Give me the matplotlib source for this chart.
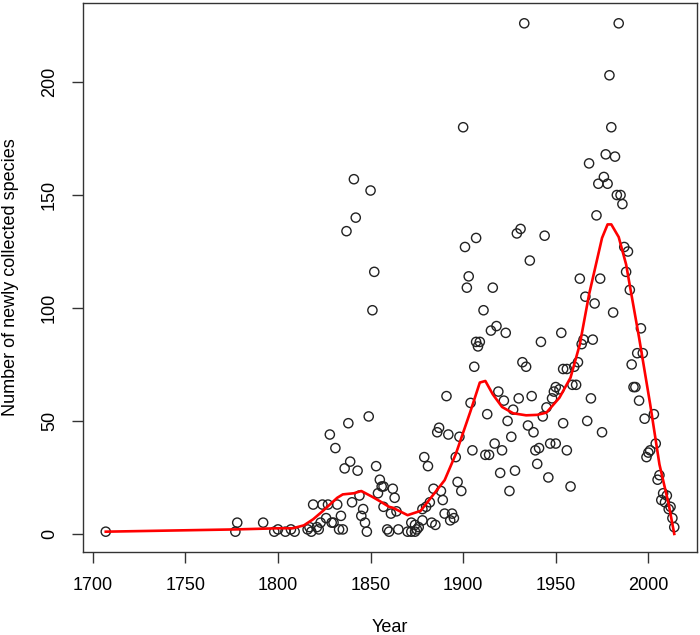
import matplotlib
matplotlib.use("Agg")
import matplotlib.pyplot as plt
import numpy as np

plt.rcParams['font.family'] = ['Liberation Sans', 'DejaVu Sans']

# collection year and number of newly collected species
year = [1707, 1777, 1778, 1792, 1798, 1800, 1804, 1807, 1809, 1816, 1817, 1818,
        1819, 1821, 1822, 1823, 1824, 1826, 1827, 1828, 1829, 1830, 1831, 1832,
        1833, 1834, 1835, 1836, 1837, 1838, 1839, 1840, 1841, 1842, 1843, 1844,
        1845, 1846, 1847, 1848, 1849, 1850, 1851, 1852, 1853, 1854, 1855, 1856,
        1857, 1857, 1859, 1860, 1861, 1862, 1863, 1864, 1865, 1870, 1872, 1872,
        1874, 1874, 1875, 1876, 1878, 1878, 1879, 1880, 1881, 1882, 1883, 1884,
        1885, 1886, 1887, 1888, 1889, 1890, 1891, 1892, 1893, 1894, 1895, 1896,
        1897, 1898, 1899, 1900, 1901, 1902, 1903, 1904, 1905, 1906, 1907, 1907,
        1908, 1909, 1911, 1912, 1913, 1914, 1915, 1916, 1917, 1918, 1919, 1920,
        1921, 1922, 1923, 1924, 1925, 1926, 1927, 1928, 1929, 1930, 1931, 1932,
        1933, 1934, 1935, 1936, 1937, 1938, 1939, 1940, 1941, 1942, 1943, 1944,
        1945, 1946, 1947, 1948, 1949, 1950, 1950, 1952, 1953, 1954, 1954, 1956,
        1956, 1958, 1959, 1960, 1961, 1962, 1963, 1964, 1965, 1966, 1967, 1968,
        1969, 1970, 1971, 1972, 1973, 1974, 1975, 1976, 1977, 1978, 1979, 1980,
        1981, 1982, 1983, 1984, 1985, 1986, 1987, 1988, 1989, 1990, 1991, 1992,
        1993, 1994, 1995, 1996, 1997, 1998, 1999, 2000, 2001, 2003, 2004, 2005,
        2006, 2007, 2008, 2009, 2010, 2011, 2012, 2013, 2014]
species = [1, 1, 5, 5, 1, 2, 1, 2, 1, 2, 3, 1,
           13, 3, 2, 5, 13, 7, 13, 44, 5, 5, 38, 13,
           2, 8, 2, 29, 134, 49, 32, 14, 157, 140, 28, 17,
           8, 11, 5, 1, 52, 152, 99, 116, 30, 18, 24, 21,
           21, 12, 2, 1, 9, 20, 16, 10, 2, 1, 1, 5,
           1, 4, 2, 3, 11, 6, 34, 12, 30, 14, 5, 20,
           4, 45, 47, 19, 15, 9, 61, 44, 6, 9, 7, 34,
           23, 43, 19, 180, 127, 109, 114, 58, 37, 74, 131, 85,
           83, 85, 99, 35, 53, 35, 90, 109, 40, 92, 63, 27,
           37, 59, 89, 50, 19, 43, 55, 28, 133, 60, 135, 76,
           226, 74, 48, 121, 61, 45, 37, 31, 38, 85, 52, 132,
           56, 25, 40, 60, 63, 40, 65, 64, 89, 49, 73, 73,
           37, 21, 66, 74, 66, 76, 113, 84, 86, 105, 50, 164,
           60, 86, 102, 141, 155, 113, 45, 158, 168, 155, 203, 180,
           98, 167, 150, 226, 150, 146, 127, 116, 125, 108, 75, 65,
           65, 80, 59, 91, 80, 51, 34, 36, 37, 53, 40, 24,
           26, 15, 18, 14, 17, 11, 12, 7, 3]

# smoothed trend (red line)
smooth_x = [1707, 1777, 1800, 1808, 1814, 1819, 1824, 1832, 1835, 1841, 1845,
            1851, 1855, 1860, 1862, 1870, 1877, 1884, 1890, 1896, 1904, 1909,
            1912, 1916, 1921, 1927, 1934, 1940, 1945, 1952, 1958, 1963, 1968,
            1975, 1978, 1980, 1984, 1988, 1990, 1995, 2001, 2006, 2011, 2014]
smooth_y = [1, 2, 2.5, 2.5, 3.8, 6.5, 10, 16, 17.5, 18, 19,
            16.4, 14.5, 12, 11.6, 8.3, 10.2, 17.5, 23.8, 35.3, 54.4, 67,
            67.7, 61.8, 56.2, 53.4, 52.5, 52.7, 53.7, 60.3, 69.2, 83.9, 106,
            131, 137, 137, 131.4, 119.3, 110, 86.9, 57.4, 30.8, 13.1, 0]

xticks = [1700, 1750, 1800, 1850, 1900, 1950, 2000]
yticks = [0, 50, 100, 150, 200]

fig = plt.figure(figsize=(7, 6.35), dpi=100)
ax = fig.add_axes([0.1186, 0.1307, 0.8771, 0.8646])

ax.scatter(year, species, s=44, facecolors='none', edgecolors='#222222',
           linewidths=1.0, zorder=2)
ax.plot(smooth_x, smooth_y, color='#ff0000', lw=1.9, zorder=3)

# R style 4% padding around the data range
xr = max(year) - min(year)
yr = max(species) - min(species)
ax.set_xlim(min(year) - 0.04 * xr, max(year) + 0.04 * xr)
ax.set_ylim(min(species) - 0.04 * yr, max(species) + 0.04 * yr)

ax.set_xticks(xticks)
ax.set_yticks(yticks)
ax.tick_params(axis='both', direction='out', length=8, width=1, labelsize=13,
               pad=10, color='#333333')
for lab in ax.get_yticklabels():
    lab.set_rotation(90)
    lab.set_va('center')

for sp in ax.spines.values():
    sp.set_color('#333333')
    sp.set_linewidth(1.0)

ax.set_xlabel('Year', fontsize=13, labelpad=18)
ax.set_ylabel('Number of newly collected species', fontsize=13, labelpad=16)

fig.savefig('out.png', dpi=100)
